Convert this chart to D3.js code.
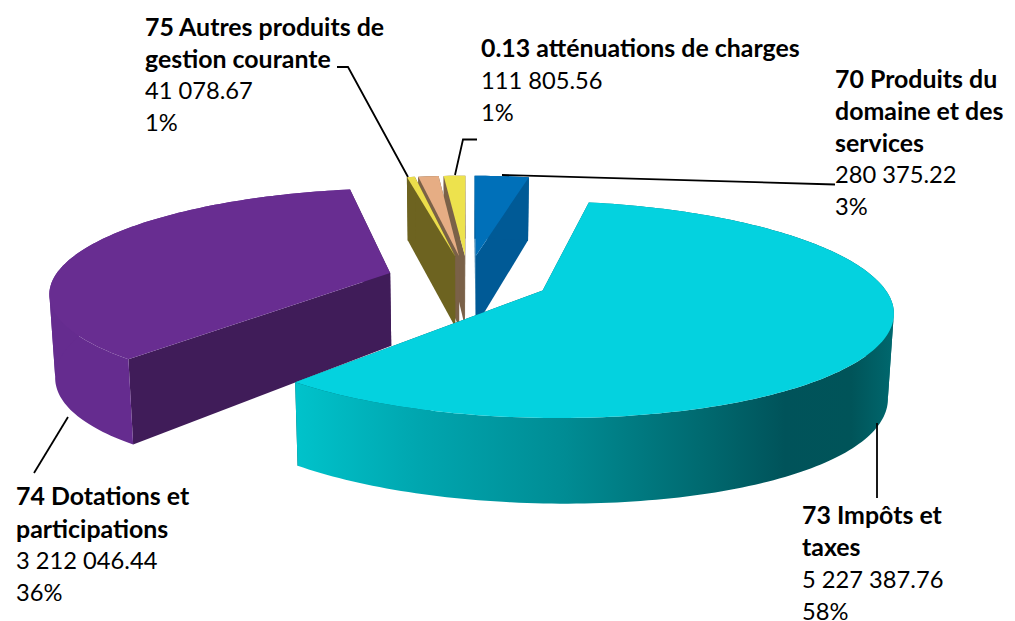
<!DOCTYPE html>
<html><head><meta charset="utf-8">
<script src="https://cdn.jsdelivr.net/npm/d3@7"></script>
<style>html,body{margin:0;padding:0;background:#fff}svg{display:block}text{font-family:Lato,Carlito,sans-serif;fill:#000}</style>
</head><body><svg id="c" width="1015" height="621"></svg>
<script>
// Data (clockwise from the top of the pie)
const categories = ["70 Produits du domaine et des services","73 Impôts et taxes","74 Dotations et participations","75 Autres produits de gestion courante","(sans étiquette)","0.13 atténuations de charges"];
const values = [280375.22,5227387.76,3212046.44,41078.67,105000,111805.56];
const percentLabels = ["3%","58%","36%","1%",null,"1%"];
const nameLines = [["70 Produits du","domaine et des","services"],["73 Impôts et","taxes"],["74 Dotations et","participations"],["75 Autres produits de","gestion courante"],null,["0.13 atténuations de charges"]];

// Styles
const topColors  = ["#0070B9","#04D2DF","#682D91","#EBDD4B","#E6AD84","#EDE24D"];
const cutColors  = ["#005A96","#005A60","#401C59","#6D6320","#7A6148","#7A6148"];
const wallColors = ["#005A96","url(#wall73)","#652C8F","#6D6320","#7A6148","#7A6148"];
const wallStops = [[0,"#00C3CB"],[.2,"#00A7B0"],[.45,"#008C94"],[.68,"#006A70"],[.82,"#00535A"],[.93,"#005459"],[1,"#00686E"]];

// Layout of the perspective projection
const P = {cx:468, cy:279.5, rx:337, ry:101.4, k:.172, explode:.242, height:73, k2:.13, a:.08, taper:.014};
const labelAnchors = [[835,[79,111,143],175,207],[802,[515,547],580,612],[16,[496,529],561,593],[145,[27,59],91,123],null,[481,[48],81,113]];
const leaders = [[[502,175],[835,184.5]],[[877,423],[877,498]],[[68,417],[34,473]],[[337,67],[348,67],[408,177]],null,[[477,139.5],[463,139.5],[455,175]]];

const svg = d3.select("#c");
const fmt = d3.formatLocale({decimal:".",thousands:"\u00a0",grouping:[3],currency:["",""]}).format(",.2f");
const defs = svg.append("defs");
const g = defs.append("linearGradient").attr("id","wall73").attr("gradientUnits","userSpaceOnUse")
  .attr("x1",295).attr("x2",893).attr("y1",0).attr("y2",0);
wallStops.forEach(s=>g.append("stop").attr("offset",s[0]).attr("stop-color",s[1]));

const arcs = d3.pie().sort(null).value(d=>d)(values);
const project = (X,Y,Z)=>{
  const w = 1+P.k*Y;
  return [P.cx+P.rx*X/w*(1-P.taper*Z), P.cy-P.ry*Y/w+Z*P.height*(1+P.a*X*X)/(1+P.k2*Y)];
};
const line = d3.line();
arcs.forEach(a=>{
  const m=(a.startAngle+a.endAngle)/2;
  a.apex=[P.explode*Math.sin(m),P.explode*Math.cos(m)];
  const n=Math.max(2,Math.ceil((a.endAngle-a.startAngle)/.02));
  a.rim=d3.range(n+1).map(i=>{
    const t=a.startAngle+(a.endAngle-a.startAngle)*i/n;
    return [a.apex[0]+Math.sin(t),a.apex[1]+Math.cos(t)];
  });
});
const drawOrder=[0,5,4,3,2,1];
drawOrder.forEach(i=>{
  const a=arcs[i], rim=a.rim, ap=a.apex;
  const face=(p,q)=>[project(p[0],p[1],0),project(q[0],q[1],0),project(q[0],q[1],1),project(p[0],p[1],1)];
  const s=svg.append("g");
  const first=rim[0], last=rim[rim.length-1];
  // hidden cut drawn first, the nearer one after it
  const cuts = i===0 ? [[ap,first],[ap,last]] : [[ap,last],[ap,first]];
  cuts.forEach(c=>s.append("path").attr("d",line(face(c[0],c[1]))+"Z").attr("fill",cutColors[i]));
  // outer wall, split where the rim folds at its left/right extreme so the band never cancels itself
  const xs=rim.map(p=>project(p[0],p[1],0)[0]);
  const fold = i===1 ? d3.greatestIndex(xs) : i===2 ? d3.leastIndex(xs) : 0;
  [rim.slice(0,fold+1),rim.slice(fold)].forEach(part=>{
    if(part.length<2) return;
    const wall=part.map(p=>project(p[0],p[1],0)).concat(part.slice().reverse().map(p=>project(p[0],p[1],1)));
    s.append("path").attr("d",line(wall)+"Z").attr("fill",wallColors[i]);
  });
  const top=[project(ap[0],ap[1],0)].concat(rim.map(p=>project(p[0],p[1],0)));
  s.append("path").attr("d",line(top)+"Z").attr("fill",topColors[i]);
});
// Leader lines
leaders.forEach(l=>{ if(l) svg.append("path").attr("d",line(l)).attr("fill","none").attr("stroke","#000").attr("stroke-width",1.8); });
// Labels
labelAnchors.forEach((a,i)=>{
  if(!a) return;
  nameLines[i].forEach((t,j)=>svg.append("text").attr("x",a[0]).attr("y",a[1][j]).attr("dy",".35em").attr("font-size",24.9).attr("font-weight",700).text(t));
  svg.append("text").attr("x",a[0]).attr("y",a[2]).attr("dy",".35em").attr("font-size",23.7).text(fmt(values[i]));
  svg.append("text").attr("x",a[0]).attr("y",a[3]).attr("dy",".35em").attr("font-size",23.7).text(percentLabels[i]);
});
</script></body></html>
